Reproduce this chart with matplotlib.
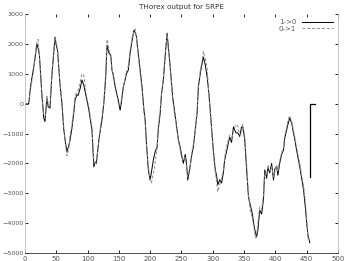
import matplotlib.pyplot as plt

# time index and the two traces (rows of 10)
steps = [0, 6, 9, 13, 16, 19, 21, 23, 25, 27,
         30, 32, 35, 37, 40, 43, 46, 48, 50, 52,
         56, 59, 62, 65, 67, 70, 72, 75, 78, 80,
         83, 85, 88, 91, 94, 97, 99, 102, 105, 107,
         110, 112, 114, 118, 121, 123, 126, 129, 131, 134,
         137, 139, 141, 144, 147, 149, 152, 154, 157, 160,
         162, 165, 168, 171, 174, 176, 178, 181, 184, 187,
         190, 192, 194, 197, 200, 202, 205, 208, 211, 213,
         216, 218, 221, 224, 227, 229, 232, 234, 236, 240,
         243, 245, 248, 250, 253, 256, 258, 260, 263, 267,
         269, 272, 275, 277, 280, 283, 285, 288, 291, 294,
         298, 301, 304, 306, 308, 311, 314, 317, 319, 323,
         327, 330, 333, 337, 340, 343, 346, 348, 351, 354,
         357, 360, 363, 366, 368, 370, 372, 375, 378, 381,
         383, 386, 388, 391, 394, 397, 399, 402, 404, 407,
         410, 413, 415, 418, 420, 423, 426, 428, 431, 433,
         436, 439, 442, 445, 448, 450, 452, 455]
trace_a = [0, 0, 600, 1100, 1500, 2000, 1850, 1650, 950, 300,
           -480, -600, 190, -100, -150, 950, 1700, 2230, 1950, 1800,
           620, 0, -880, -1350, -1620, -1400, -1220, -820, -300, 120,
           300, 280, 500, 790, 620, 300, 120, -210, -600, -880,
           -2120, -1950, -2000, -1220, -800, -550, 20, 900, 1960, 1700,
           1630, 1120, 980, 560, 300, 120, -220, 50, 560, 800,
           1000, 1120, 1690, 2100, 2460, 2380, 2250, 1690, 1100, 560,
           -200, -550, -1300, -2220, -2560, -2300, -1890, -1600, -1460, -850,
           -320, 300, 790, 1600, 2360, 1900, 1220, 700, 220, -400,
           -880, -1200, -1460, -1700, -2000, -1700, -1990, -2560, -2200, -1650,
           -1450, -880, -300, 560, 1000, 1360, 1560, 1300, 890, 300,
           -780, -1600, -2220, -2400, -2720, -2550, -2660, -2300, -1890, -1500,
           -1120, -1300, -780, -980, -980, -1100, -780, -780, -1200, -2200,
           -3130, -3400, -3670, -4100, -4300, -4470, -4250, -3570, -3700, -3200,
           -2220, -2500, -2150, -2320, -2000, -2560, -2200, -2100, -2400, -1990,
           -1700, -1550, -1150, -880, -700, -480, -650, -880, -1200, -1450,
           -1800, -2120, -2500, -2890, -3500, -4000, -4400, -4660]
trace_b = [0, 0, 500, 1000, 1600, 2050, 2150, 1600, 1000, 250,
           -350, -500, 250, 0, -50, 1000, 1800, 2200, 2100, 1700,
           700, 100, -800, -1450, -1750, -1500, -1050, -700, -200, 250,
           400, 450, 700, 1000, 950, 450, 150, -100, -500, -800,
           -1950, -2050, -1900, -1300, -700, -450, 100, 1000, 2150, 1850,
           1500, 1200, 900, 650, 300, 0, -100, 150, 500, 850,
           1050, 1250, 1800, 2200, 2400, 2500, 2200, 1600, 1000, 450,
           -300, -650, -1400, -2100, -2550, -2650, -2350, -1950, -1500, -750,
           -200, 350, 850, 1700, 2300, 1800, 1300, 600, 100, -500,
           -950, -1250, -1550, -1800, -1900, -1800, -2100, -2450, -2300, -1550,
           -1350, -950, -200, 650, 1100, 1450, 1750, 1500, 1200, 200,
           -850, -1700, -2300, -2600, -2950, -2700, -2500, -2200, -1800, -1350,
           -1050, -1200, -900, -700, -750, -1050, -1000, -700, -1100, -2000,
           -3050, -3600, -3800, -4200, -4500, -4400, -4000, -3450, -3550, -3050,
           -2300, -2400, -2050, -2250, -2100, -2450, -2300, -2050, -2250, -1900,
           -1650, -1450, -1050, -800, -550, -400, -600, -800, -1100, -1350,
           -1700, -2000, -2400, -2750, -3300, -3850, -4500, -4600]
# separate black stroke right of the data end
bar_steps = [456, 456, 464]
bar_vals = [-2470, 0, 0]

x_ticks = list(range(0, 501, 50))
y_ticks = list(range(-5000, 3001, 1000))

fig = plt.figure(figsize=(3.47, 2.61), dpi=100)
ax = fig.add_axes([0.072, 0.031, 0.902, 0.915])

ax.plot(steps, trace_a, color="black", lw=0.7, label="1->0")
ax.plot(steps, trace_b, color="#8c8c8c", lw=0.7, ls=(0, (3, 2)), label="0->1")
ax.plot(bar_steps, bar_vals, color="black", lw=0.9)

ax.set_xlim(0, 500)
ax.set_ylim(-5000, 3000)
ax.set_xticks(x_ticks)
ax.set_yticks(y_ticks)
ax.tick_params(direction="in", length=2.5, width=0.6, labelsize=5,
               labelcolor="#555555", top=True, right=True, pad=2)
ax.tick_params(axis="y", labelsize=4.6, pad=1)
ax.spines["top"].set_visible(False)
ax.spines["left"].set_color("#bbbbbb")
ax.spines["right"].set_color("#bbbbbb")
ax.spines["bottom"].set_color("#333333")
for s in ax.spines.values():
    s.set_linewidth(0.6)

ax.set_title("THorex output for SRPE", fontsize=5.2, color="#333333", pad=4)
ax.legend(loc="upper right", fontsize=5, frameon=False, markerfirst=False,
          handlelength=4.5, labelspacing=0.1, borderaxespad=0.3,
          labelcolor="#555555")

fig.savefig("out.png", dpi=100)
